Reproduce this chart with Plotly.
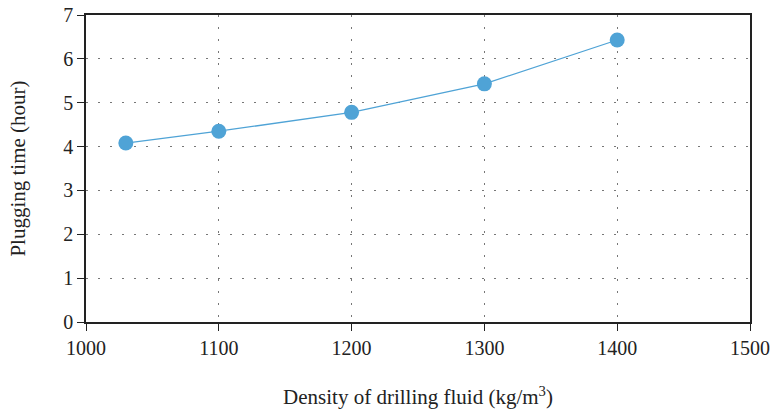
import plotly.graph_objects as go

density = [1030, 1100, 1200, 1300, 1400]
plug_time = [4.08, 4.35, 4.78, 5.43, 6.43]
x_ticks = [1000, 1100, 1200, 1300, 1400, 1500]
y_ticks = [0, 1, 2, 3, 4, 5, 6, 7]

fig = go.Figure()
fig.add_trace(go.Scatter(
    x=density, y=plug_time, mode="lines+markers",
    line=dict(color="#4fa3d6", width=1.3),
    marker=dict(color="#4fa3d6", size=15),
    showlegend=False,
))

font = "Liberation Serif"
axis_common = dict(
    showline=True, linecolor="#222", linewidth=1.5, mirror=True,
    ticks="outside", ticklen=7, tickcolor="#222", tickwidth=1.2,
    showgrid=True, gridcolor="#777", griddash="2px,10px", gridwidth=1,
    zeroline=False, automargin=False,
    tickfont=dict(family=font, size=20, color="#222"),
)
fig.update_layout(
    width=773, height=415,
    margin=dict(l=86, r=23, t=15, b=93),
    paper_bgcolor="white", plot_bgcolor="white",
    font=dict(family=font, size=20, color="#222"),
    xaxis=dict(
        range=[1000, 1500], tickvals=x_ticks,
        title=dict(text="Density of drilling fluid (kg/m<sup>3</sup>)",
                   font=dict(family=font, size=21, color="#222"), standoff=32),
        **axis_common,
    ),
    yaxis=dict(
        range=[0, 7], tickvals=y_ticks,
        title=dict(text="Plugging time (hour)",
                   font=dict(family=font, size=21, color="#222"), standoff=32),
        **axis_common,
    ),
)
fig.write_html("out.html", config={"displayModeBar": False},
               post_script="document.body.style.margin='0';document.body.style.overflow='hidden';")
